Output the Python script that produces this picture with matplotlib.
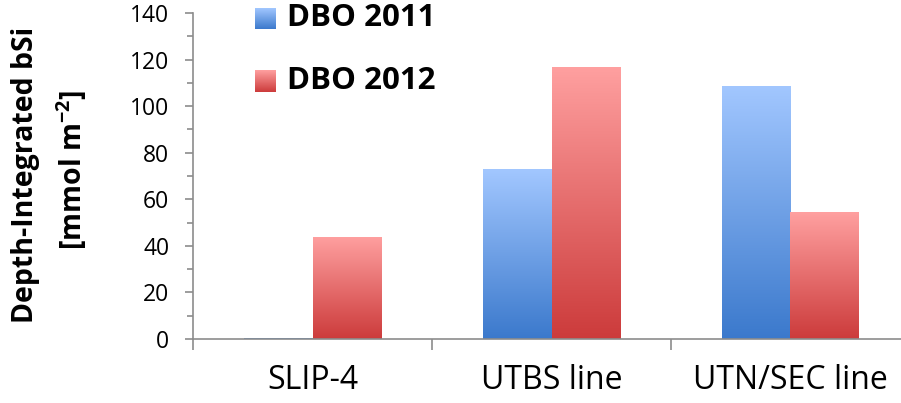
import numpy as np
import matplotlib
matplotlib.use('Agg')
import matplotlib.pyplot as plt
from matplotlib.colors import LinearSegmentedColormap
from matplotlib.ticker import MultipleLocator, FixedLocator, NullFormatter, FixedFormatter

categories = ['SLIP-4', 'UTBS line', 'UTN/SEC line']
dbo2011 = [0.6, 73, 108.5]
dbo2012 = [44, 117, 54.5]
series_names = ['DBO 2011', 'DBO 2012']

plt.rcParams['font.family'] = ['Open Sans', 'DejaVu Sans']
plt.rcParams['mathtext.fontset'] = 'custom'
plt.rcParams['mathtext.rm'] = 'Open Sans'
plt.rcParams['mathtext.bf'] = 'Open Sans:bold'

W, H = 901, 403
fig = plt.figure(figsize=(W / 100, H / 100), dpi=100)
ax = fig.add_axes([193 / W, 1 - 339 / H, 717 / W, 326 / H])

cmap_blue = LinearSegmentedColormap.from_list('b', ['#3b79cc', '#a2c7ff'])
cmap_red = LinearSegmentedColormap.from_list('r', ['#cc3b3b', '#ffa0a0'])

x = np.arange(len(categories))
w = 0.285
b1 = ax.bar(x - w / 2, dbo2011, w, color='none', edgecolor='none')
b2 = ax.bar(x + w / 2, dbo2012, w, color='none', edgecolor='none')

grad = np.linspace(0, 1, 256).reshape(-1, 1)
for bars, cm in ((b1, cmap_blue), (b2, cmap_red)):
    for p in bars:
        x0, y0 = p.get_x(), p.get_y()
        x1, y1 = x0 + p.get_width(), y0 + p.get_height()
        im = ax.imshow(grad, extent=[x0, x1, y0, y1], origin='lower', cmap=cm,
                       aspect='auto', zorder=2, interpolation='bilinear')
        im.set_clip_path(p)

ax.set_xlim(-0.5, 2.5)
ax.set_ylim(0, 140)

for s in ('top', 'right'):
    ax.spines[s].set_visible(False)
for s in ('left', 'bottom'):
    ax.spines[s].set_color('#8c8c8c')
    ax.spines[s].set_linewidth(1.2)

ax.yaxis.set_major_locator(MultipleLocator(20))
ax.yaxis.set_minor_locator(MultipleLocator(10))
ax.tick_params(axis='y', which='major', length=6, width=1.2, color='#8c8c8c',
               labelsize=16.5, pad=11, direction='out')
ax.tick_params(axis='y', which='minor', length=4, width=1.2, color='#8c8c8c', direction='out')

ax.xaxis.set_major_locator(FixedLocator([-0.5, 0.5, 1.5, 2.5]))
ax.xaxis.set_major_formatter(NullFormatter())
ax.xaxis.set_minor_locator(FixedLocator(list(x)))
ax.xaxis.set_minor_formatter(FixedFormatter(categories))
ax.tick_params(axis='x', which='major', length=8, width=1.2, color='#8c8c8c', direction='out')
ax.tick_params(axis='x', which='minor', length=0, labelsize=23, pad=18)

# y label
fig.text(26 / W, 1 - 175 / H, 'Depth-Integrated bSi', rotation=90, ha='center', va='center',
         fontsize=20.5, fontweight='bold')
fig.text(72 / W, 1 - 170 / H, r'[mmol m$^{\mathbf{-2}}$]', rotation=90, ha='center', va='center',
         fontsize=20.5, fontweight='bold')

# legend
leg_pos = [(8, 29), (70, 92)]
for (ya, yb), cm, name in zip(leg_pos, (cmap_blue, cmap_red), series_names):
    lax = fig.add_axes([255 / W, 1 - yb / H, 21 / W, (yb - ya) / H])
    lax.imshow(grad, origin='lower', cmap=cm, aspect='auto', extent=[0, 1, 0, 1])
    lax.axis('off')
    fig.text(287 / W, 1 - (ya + yb) / 2 / H, name, ha='left', va='center',
             fontsize=22.5, fontweight='bold')

fig.savefig('out.png', dpi=100)
